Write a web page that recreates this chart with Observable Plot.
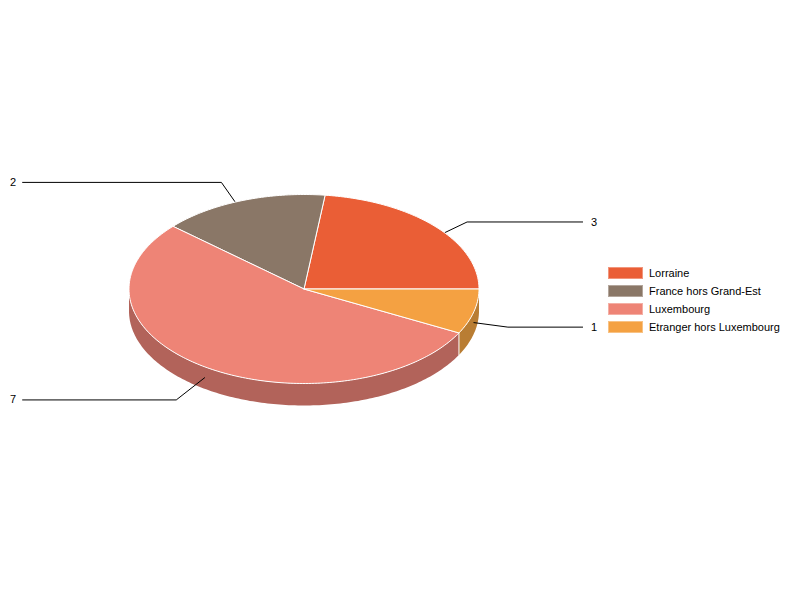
<!DOCTYPE html>
<html>
<head>
<meta charset="utf-8">
<script src="https://cdn.jsdelivr.net/npm/d3@7"></script>
<script src="https://cdn.jsdelivr.net/npm/@observablehq/plot@0.6"></script>
<style>
  html, body { margin: 0; padding: 0; background: #fff; }
  #chart { position: relative; width: 800px; height: 600px; font-family: "Liberation Sans", Arial, sans-serif; }
  #chart svg { display: block; position: absolute; left: 0; top: 0; }
  #legend { position: absolute; left: 608px; top: 264px; font-size: 11px; color: #000; }
  .row { display: flex; align-items: center; height: 18px; }
  .swatch { width: 35px; height: 12px; margin-right: 6px; box-sizing: border-box; border: 1px solid rgba(255,255,255,.35); }
</style>
</head>
<body>
<div id="chart"><div id="legend"></div></div>
<script>
const categories = ["Lorraine", "France hors Grand-Est", "Luxembourg", "Etranger hors Luxembourg"];
const values = [3, 2, 7, 1];
const topColors = ["#ea5e36", "#8a7767", "#ee8476", "#f4a142"];
const wallColors = ["#b0472a", "#68594e", "#b2635a", "#b97d33"];
// how far out each leader's elbow sits, as a multiple of the pie radius
const elbowReach = [1.245, 1.331, 1.285, 1.2];

const DEPTH = 22 / 94.5;          // wall height, in pie radii on the y scale
const LEADER_RIGHT = 1.592;       // leader ends, in pie radii on the x scale
const LEADER_LEFT = -1.608;

const total = d3.sum(values);
const cumulative = d3.cumsum(values);
const slices = categories.map((name, i) => ({
  name,
  value: values[i],
  start: ((cumulative[i] - values[i]) / total) * 2 * Math.PI,
  end: (cumulative[i] / total) * 2 * Math.PI,
  i
}));

const STEP = Math.PI / 180;
function arcAngles(a, b) {
  const out = [];
  for (let t = a; t < b; t += STEP) out.push(t);
  out.push(b);
  return out;
}

// top faces: closed polygon centre -> arc -> centre
const topPoints = slices.flatMap(s => [
  {name: s.name, x: 0, y: 0},
  ...arcAngles(s.start, s.end).map(t => ({name: s.name, x: Math.cos(t), y: Math.sin(t)})),
  {name: s.name, x: 0, y: 0}
]);

// side walls: only the part of each slice on the front half of the pie
const wallPoints = slices.flatMap(s => {
  const a = Math.max(s.start, Math.PI), b = Math.min(s.end, 2 * Math.PI);
  if (b <= a) return [];
  const key = s.name + " wall";
  const upper = arcAngles(a, b).map(t => ({name: key, x: Math.cos(t), y: Math.sin(t)}));
  const lower = arcAngles(a, b).reverse().map(t => ({name: key, x: Math.cos(t), y: Math.sin(t) - DEPTH}));
  return [...upper, ...lower, upper[0]];
});

// white seams where two front walls meet
const seams = slices.filter(s => s.end > Math.PI && s.end < 2 * Math.PI).flatMap(s => [
  {name: s.name, x: Math.cos(s.end), y: Math.sin(s.end)},
  {name: s.name, x: Math.cos(s.end), y: Math.sin(s.end) - DEPTH}
]);

// leaders: start on the mid-height of the wall at the slice's mid angle
const leaders = slices.map((s, i) => {
  const mid = (s.start + s.end) / 2;
  const cx = Math.cos(mid), cy = Math.sin(mid);
  const right = cx > 0;
  const elbowY = cy * elbowReach[i] - DEPTH / 2;
  return {
    name: s.name, value: s.value, right,
    points: [
      {name: s.name, x: cx, y: cy - DEPTH / 2},
      {name: s.name, x: cx * elbowReach[i], y: elbowY},
      {name: s.name, x: right ? LEADER_RIGHT : LEADER_LEFT, y: elbowY}
    ]
  };
});
const labelOf = l => l.points[2];

const colorDomain = [...categories, ...categories.map(c => c + " wall")];
const colorRange = [...topColors, ...wallColors];

const plot = Plot.plot({
  width: 800,
  height: 600,
  margin: 0,
  x: {domain: [-1, 1], range: [128.5, 478.5], axis: null},
  y: {domain: [-1, 1], range: [383, 194], axis: null},
  color: {type: "ordinal", domain: colorDomain, range: colorRange},
  marks: [
    Plot.line(wallPoints, {x: "x", y: "y", z: "name", fill: "name", stroke: null, curve: "linear"}),
    Plot.line(seams, {x: "x", y: "y", z: "name", stroke: "#fff", strokeWidth: 1}),
    Plot.line(leaders.flatMap(l => l.points), {x: "x", y: "y", z: "name", stroke: "#000", strokeWidth: 1}),
    Plot.line(topPoints, {x: "x", y: "y", z: "name", fill: "name", stroke: "#fff", strokeWidth: 1, strokeLinejoin: "round"}),
    Plot.text(leaders.filter(l => l.right), {
      x: l => labelOf(l).x, y: l => labelOf(l).y, text: l => String(l.value),
      textAnchor: "start", dx: 8.5, fontSize: 11, fontFamily: "Liberation Sans, Arial, sans-serif", fill: "#000"
    }),
    Plot.text(leaders.filter(l => !l.right), {
      x: l => labelOf(l).x, y: l => labelOf(l).y, text: l => String(l.value),
      textAnchor: "end", dx: -6.5, fontSize: 11, fontFamily: "Liberation Sans, Arial, sans-serif", fill: "#000"
    })
  ]
});
const chart = document.getElementById("chart");
chart.insertBefore(plot, chart.firstChild);

const legend = document.getElementById("legend");
categories.forEach((c, i) => {
  const row = document.createElement("div");
  row.className = "row";
  const sw = document.createElement("div");
  sw.className = "swatch";
  sw.style.background = topColors[i];
  const label = document.createElement("span");
  label.textContent = c;
  row.append(sw, label);
  legend.append(row);
});
</script>
</body>
</html>
